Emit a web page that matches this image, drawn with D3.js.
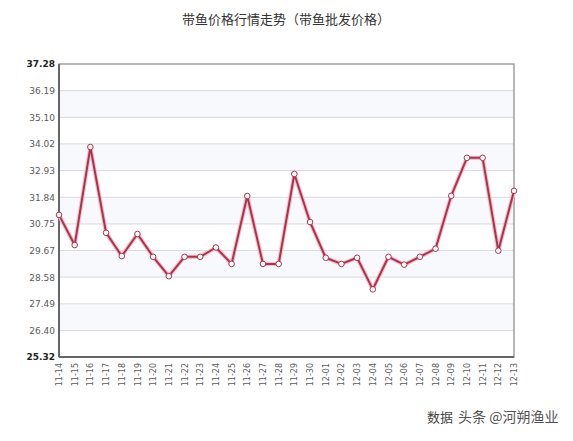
<!DOCTYPE html>
<html><head><meta charset="utf-8">
<script src="https://cdn.jsdelivr.net/npm/d3@7"></script>
<style>body{margin:0;background:#fff}svg{display:block}</style>
</head><body>
<svg id="c" width="573" height="441"></svg>
<script>
const dates = ["11-14","11-15","11-16","11-17","11-18","11-19","11-20","11-21","11-22","11-23","11-24","11-25","11-26","11-27","11-28","11-29","11-30","12-01","12-02","12-03","12-04","12-05","12-06","12-07","12-08","12-09","12-10","12-11","12-12","12-13"];
const prices = [31.12,29.89,33.89,30.39,29.44,30.34,29.41,28.62,29.41,29.41,29.79,29.12,31.89,29.12,29.12,32.79,30.83,29.37,29.12,29.37,28.08,29.41,29.09,29.41,29.74,31.9,33.45,33.45,29.66,32.1];
const yTicks = [25.32,26.40,27.49,28.58,29.67,30.75,31.84,32.93,34.02,35.10,36.19,37.28];
const title = "带鱼价格行情走势（带鱼批发价格）";

const svg = d3.select("#c");
const L=59, R=514, T=64, B=357;
const x = d3.scalePoint().domain(dates).range([L,R]);
const y = d3.scaleLinear().domain([25.32,37.28]).range([B,T]);

// bands
for(let i=0;i<yTicks.length-1;i++){
  if(i%2===0) continue;
  svg.append("rect").attr("x",L).attr("width",R-L)
    .attr("y",y(yTicks[i+1])).attr("height",y(yTicks[i])-y(yTicks[i+1]))
    .attr("fill","#f8f9fc");
}
// grid
svg.append("g").selectAll("line").data(yTicks.slice(1,-1)).join("line")
  .attr("x1",L).attr("x2",R).attr("y1",d=>y(d)).attr("y2",d=>y(d))
  .attr("stroke","#dadada").attr("stroke-width",1);

// y axis
const ya = svg.append("g").attr("transform",`translate(${L-1},0)`)
  .call(d3.axisLeft(y).tickValues(yTicks).tickFormat(d3.format(".2f")).tickSize(0).tickPadding(3));
ya.select(".domain").remove();
ya.selectAll("text").attr("font-family","DejaVu Sans, Verdana, sans-serif").attr("font-size",9)
  .attr("font-weight",(d,i)=> (i===0||i===yTicks.length-1)?"bold":"normal")
  .attr("fill",(d,i)=> (i===0||i===yTicks.length-1)?"#222":"#5a5a5a");

// x axis
const xa = svg.append("g").attr("transform",`translate(0,${B+3})`)
  .call(d3.axisBottom(x).tickSize(0).tickPadding(0));
xa.select(".domain").remove();
xa.selectAll("text").attr("font-family","DejaVu Sans, Verdana, sans-serif").attr("font-size",8).attr("fill","#5a5a5a")
  .attr("transform","rotate(-90)").attr("text-anchor","end").attr("dx","-3").attr("dy","0.32em").attr("x",0).attr("y",0);

// frame
svg.append("rect").attr("x",L).attr("y",T).attr("width",R-L).attr("height",B-T)
  .attr("fill","none").attr("stroke","#888").attr("stroke-width",1.2);
svg.append("line").attr("x1",L).attr("x2",L).attr("y1",T).attr("y2",B).attr("stroke","#666").attr("stroke-width",2);
svg.append("line").attr("x1",L).attr("x2",R).attr("y1",B).attr("y2",B).attr("stroke","#666").attr("stroke-width",2);

// line
const data = dates.map((d,i)=>({d,v:prices[i]}));
const line = d3.line().x(p=>x(p.d)).y(p=>y(p.v));
svg.append("path").datum(data).attr("d",line).attr("fill","none")
  .attr("stroke","#ecc3cd").attr("stroke-width",4.2).attr("stroke-linejoin","round");
svg.append("path").datum(data).attr("d",line).attr("fill","none")
  .attr("stroke","#b3304b").attr("stroke-width",2).attr("stroke-linejoin","round");
svg.append("g").selectAll("circle").data(data).join("circle")
  .attr("cx",p=>x(p.d)).attr("cy",p=>y(p.v)).attr("r",2.8)
  .attr("fill","#fff").attr("stroke","#b3304b").attr("stroke-width",1);

// title
svg.append("text").attr("x",286).attr("y",24).attr("text-anchor","middle")
  .attr("font-family","Noto Sans CJK SC, sans-serif").attr("font-size",13).attr("fill","#333").text(title);

// watermark
svg.append("text").attr("x",427).attr("y",422)
  .attr("font-family","Noto Sans CJK SC, sans-serif").attr("font-size",13).attr("fill","#444").text("数据");
svg.append("text").attr("x",458).attr("y",422)
  .attr("font-family","Noto Sans CJK SC, sans-serif").attr("font-size",14).attr("fill","#333").attr("opacity",0.85).text("头条 @河朔渔业");
</script>
</body></html>
